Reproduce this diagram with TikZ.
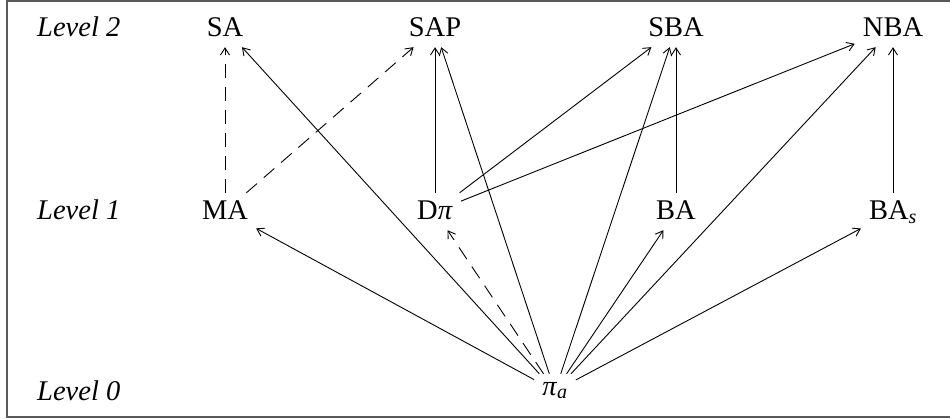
\documentclass[tikz,border=0pt]{standalone}
\usepackage{fontspec}
\setmainfont{Liberation Serif}
\usetikzlibrary{arrows.meta}
\begin{document}
\begin{tikzpicture}[x=1pt,y=-1pt,
  every node/.style={font=\fontsize{28.5}{32}\selectfont},
  item/.style={anchor=base, text height=20pt, text depth=3pt, inner xsep=8pt, inner ysep=7pt},
  lvl/.style={anchor=base west, inner sep=0pt, font=\fontsize{28.5}{32}\selectfont\itshape},
  arr/.style={line width=0.9pt, -{Straight Barb[length=7pt,width=9pt]}},
  darr/.style={arr, dash pattern=on 14pt off 9pt},
  frame/.style={line width=1.6pt, draw=black!65}]
\useasboundingbox (0,0) rectangle (950,419);
\draw[frame] (950,1) -- (7,1) -- (7,417) -- (950,417);
% level labels
\node[lvl] (l2) at (37,37) {Level 2};
\node[lvl] (l1) at (37,220) {Level 1};
\node[lvl] (l0) at (37,400) {Level 0};
% level 2
\node[item] (SA)  at (225,37) {SA};
\node[item] (SAP) at (435,37) {SAP};
\node[item] (SBA) at (676,37) {SBA};
\node[item] (NBA) at (893,37) {NBA};
% level 1
\node[item] (MA)  at (225,220) {MA};
\node[item] (Dpi) at (435,220) {D\textit{π}};
\node[item] (BA)  at (676,220) {BA};
\node[item] (BAs) at (893,220) {BA\textsubscript{\textit{s}}};
% level 0
\node[item, text height=14pt, text depth=6pt] (pia) at (555,395) {\textit{π}\textsubscript{\textit{a}}};
% edges
\draw[darr] (MA) -- (SA);
\draw[darr] (MA) -- (SAP);
\draw[arr] (Dpi) -- (SAP);
\draw[arr] (Dpi) -- (SBA);
\draw[arr] (Dpi) -- (NBA);
\draw[arr] (BA) -- (SBA);
\draw[arr] (BAs) -- (NBA);
\draw[arr] (pia) -- (MA);
\draw[arr] (pia) -- (SA);
\draw[darr] (pia) -- (Dpi);
\draw[arr] (pia) -- (SAP);
\draw[arr] (pia) -- (SBA);
\draw[arr] (pia) -- (BA);
\draw[arr] (pia) -- (NBA);
\draw[arr] (pia) -- (BAs);
\end{tikzpicture}
\end{document}
